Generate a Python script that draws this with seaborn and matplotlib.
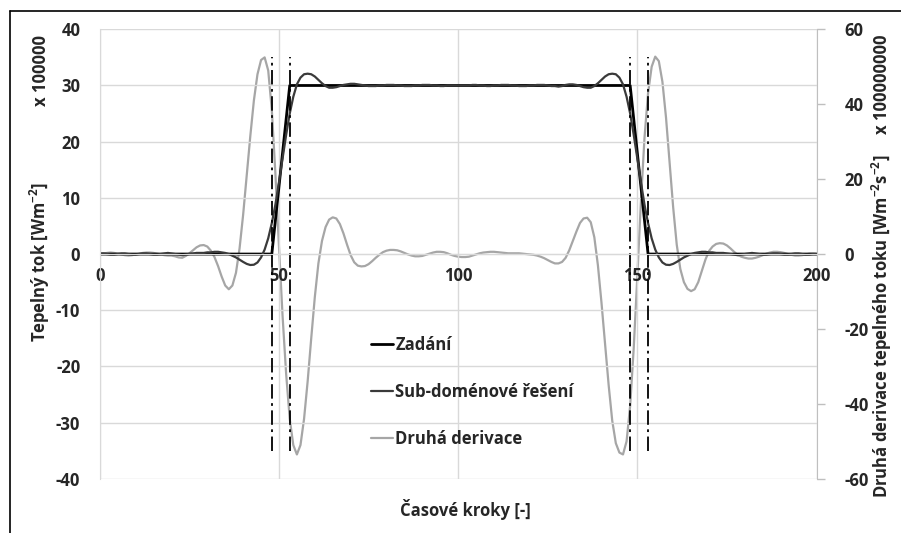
import numpy as np
import matplotlib
matplotlib.use("Agg")
import matplotlib.pyplot as plt
import seaborn as sns
from matplotlib.lines import Line2D

# Časové kroky 0..200
kroky = np.arange(0, 201)

# Zadaný tepelný tok (x 100000 W/m2)
zadani_x = [0, 48, 53, 148, 153, 200]
zadani_y = [0, 0, 30, 30, 0, 0]

# Sub-doménové řešení (x 100000 W/m2), hodnoty pro kroky 0..200
subdomenove = [
    0.1, 0.1, 0.0, -0.1, -0.1, 0.0, 0.1, 0.1, 0.0, -0.1,          # 0
    -0.1, 0.0, 0.1, 0.1, 0.0, -0.1, -0.1, 0.0, 0.1, 0.2,          # 10
    0.1, 0.0, -0.1, -0.2, -0.1, 0.0, 0.1, 0.2, 0.2, 0.2,          # 20
    0.3, 0.3, 0.4, 0.4, 0.3, 0.2, 0.0, -0.3, -0.6, -1.0,          # 30
    -1.4, -1.75, -1.95, -1.9, -1.5, -0.6, 0.8, 2.8, 5.5, 8.8,     # 40
    12.8, 17.0, 21.2, 25.0, 28.0, 30.2, 31.4, 32.0, 32.1, 32.0,   # 50
    31.6, 31.0, 30.4, 29.9, 29.6, 29.6, 29.7, 29.9, 30.1, 30.2,   # 60
    30.3, 30.3, 30.2, 30.1, 30.0, 29.9, 29.9, 29.9, 30.0, 30.0,   # 70
    30.1, 30.1, 30.1, 30.0, 30.0, 29.9, 29.9, 29.9, 30.0, 30.0,   # 80
    30.1, 30.1, 30.1, 30.0, 30.0, 29.9, 29.9, 30.0, 30.0, 30.0,   # 90
    30.0, 30.0, 30.0, 30.0, 30.1, 30.1, 30.0, 30.0, 29.9, 29.9,   # 100
    30.0, 30.0, 30.1, 30.1, 30.1, 30.0, 30.0, 29.9, 29.9, 29.9,   # 110
    30.0, 30.0, 30.1, 30.1, 30.1, 30.0, 29.9, 29.9, 29.8, 29.9,   # 120
    30.1, 30.2, 30.2, 30.1, 29.9, 29.7, 29.6, 29.6, 29.9, 30.4,   # 130
    31.0, 31.6, 32.0, 32.1, 32.0, 31.4, 30.2, 28.0, 25.0, 21.2,   # 140
    17.0, 12.8, 8.8, 5.5, 2.8, 0.8, -0.6, -1.5, -1.9, -1.95,      # 150
    -1.75, -1.4, -1.0, -0.6, -0.3, 0.0, 0.2, 0.3, 0.4, 0.4,       # 160
    0.3, 0.3, 0.2, 0.2, 0.2, 0.1, 0.0, -0.1, -0.2, -0.1,          # 170
    0.0, 0.1, 0.2, 0.1, 0.0, -0.1, -0.1, 0.0, 0.1, 0.1,           # 180
    0.0, -0.1, -0.1, 0.0, 0.1, 0.1, 0.0, -0.1, -0.1, 0.0,         # 190
    0.0,                                                          # 200
]

# Druhá derivace tepelného toku (x 100000000 W/m2/s2), kroky 0..200
druha_derivace = [
    0.0, 0.1, 0.3, 0.4, 0.3, 0.1, -0.1, -0.3, -0.4, -0.3,             # 0
    -0.1, 0.1, 0.3, 0.4, 0.4, 0.3, 0.1, -0.1, -0.3, -0.4,             # 10
    -0.4, -0.6, -0.9, -1.0, -0.5, 0.2, 1.0, 1.8, 2.3, 2.4,            # 20
    2.0, 0.9, -0.8, -3.2, -6.0, -8.4, -9.4, -8.4, -5.0, 1.5,          # 30
    10.5, 21.0, 31.5, 41.0, 48.0, 51.8, 52.5, 49.0, 38.5, 21.5,       # 40
    2.0, -16.5, -32.0, -44.0, -51.0, -53.5, -51.0, -44.0, -34.0, -22.5,  # 50
    -11.5, -2.5, 3.5, 7.2, 9.2, 9.8, 9.5, 8.0, 5.5, 2.5,              # 60
    -0.3, -2.2, -3.1, -3.3, -3.2, -2.7, -1.9, -1.0, -0.2, 0.5,        # 70
    0.9, 1.1, 1.1, 1.0, 0.7, 0.3, -0.1, -0.4, -0.6, -0.6,             # 80
    -0.5, -0.2, 0.1, 0.4, 0.6, 0.6, 0.5, 0.2, -0.2, -0.5,             # 90
    -0.7, -0.8, -0.8, -0.7, -0.4, -0.1, 0.2, 0.4, 0.5, 0.6,           # 100
    0.6, 0.5, 0.4, 0.3, 0.2, 0.2, 0.2, 0.2, 0.1, 0.0,                 # 110
    -0.1, -0.2, -0.4, -0.7, -1.1, -1.6, -2.1, -2.5, -2.5, -2.1,       # 120
    -1.0, 1.0, 3.5, 6.0, 8.3, 9.5, 9.7, 8.5, 4.5, -3.0,               # 130
    -13.0, -24.0, -35.0, -44.5, -50.5, -53.0, -53.5, -50.0, -40.5, -25.0,  # 140
    -6.0, 14.0, 31.0, 43.0, 50.0, 52.7, 51.5, 46.0, 36.5, 24.5,       # 150
    12.5, 2.5, -4.0, -7.5, -9.3, -9.9, -9.4, -7.5, -4.5, -1.5,        # 160
    0.8, 2.0, 2.7, 2.9, 2.8, 2.3, 1.5, 0.6, -0.2, -0.7,               # 170
    -1.0, -1.2, -1.2, -1.0, -0.7, -0.3, 0.1, 0.4, 0.6, 0.6,           # 180
    0.5, 0.3, 0.0, -0.2, -0.4, -0.4, -0.3, -0.1, 0.1, 0.1,            # 190
    0.0,                                                              # 200
]

# Hranice subdomén
hranice = [48, 53, 148, 153]

x_ticks = [0, 50, 100, 150, 200]
y_ticks = list(range(-40, 41, 10))
y2_ticks = list(range(-60, 61, 20))

popisky = ["Zadání", "Sub-doménové řešení", "Druhá derivace"]

sns.set_style("white")
plt.rcParams["font.family"] = ["Open Sans", "DejaVu Sans"]
plt.rcParams["font.weight"] = "bold"
plt.rcParams["mathtext.default"] = "regular"

W, H = 901, 533
fig = plt.figure(figsize=(W / 100, H / 100), dpi=100)
ax = fig.add_axes([99.8 / W, 1 - 478.8 / H, (816.5 - 99.8) / W, (478.8 - 29.3) / H])
ax2 = ax.twinx()

grid_c = "#d9d9d9"
fs = 12

sns.lineplot(x=zadani_x, y=zadani_y, ax=ax, color="black", linewidth=2.0,
             estimator=None, sort=False)
sns.lineplot(x=kroky, y=subdomenove, ax=ax, color="#3a3a3a", linewidth=1.6,
             estimator=None)
sns.lineplot(x=kroky, y=druha_derivace, ax=ax2, color="#a6a6a6", linewidth=1.6,
             estimator=None)

ax.vlines(hranice, -35, 35, colors="black", linewidth=1.3,
          linestyles=(0, (8, 2.5, 1.5, 2.5)))

ax.set_xlim(0, 200)
ax.set_ylim(-40, 40)
ax2.set_ylim(-60, 60)
ax.set_xticks(x_ticks)
ax.set_yticks(y_ticks)
ax2.set_yticks(y2_ticks)
ax.set_xticklabels([str(v) for v in x_ticks])
ax.set_yticklabels([str(v) for v in y_ticks])
ax2.set_yticklabels([str(v) for v in y2_ticks])

ax.grid(True, color=grid_c, linewidth=1.0)
ax.set_axisbelow(True)
ax2.grid(False)

for s in ["top", "right"]:
    ax.spines[s].set_visible(False)
ax.spines["left"].set_color(grid_c)
ax.spines["bottom"].set_position(("data", 0))
ax.spines["bottom"].set_color(grid_c)
for s in ["top", "left", "bottom"]:
    ax2.spines[s].set_visible(False)
ax2.spines["right"].set_color("#bfbfbf")

ax.tick_params(axis="x", length=0, pad=9, labelsize=fs)
ax.tick_params(axis="y", length=0, pad=14, labelsize=fs)
ax2.tick_params(axis="y", length=6, color="#bfbfbf", width=1, pad=14, labelsize=fs)
for lab in ax.get_xticklabels() + ax.get_yticklabels() + ax2.get_yticklabels():
    lab.set_fontweight("bold")

ax.set_xlabel("")
ax.set_ylabel("")
ax2.set_ylabel("")

# Dolní osa nad grafem druhé derivace
ax.set_zorder(ax2.get_zorder() + 1)
ax.patch.set_visible(False)

handles = [ax.lines[0], ax.lines[1], ax2.lines[0]]
fig.legend(handles, popisky, loc="center left",
           bbox_to_anchor=(371 / W, 1 - 392 / H), bbox_transform=fig.transFigure,
           frameon=False, handlelength=1.3, handletextpad=0.15, labelspacing=1.75,
           borderpad=0, borderaxespad=0, prop=dict(weight="bold", size=fs))

fig.text(40 / W, 1 - 262 / H, "Tepelný tok [Wm$^{-2}$]", rotation=90,
         ha="center", va="center", fontsize=fs, fontweight="bold")
fig.text(41 / W, 1 - 70 / H, "x 100000", rotation=90,
         ha="center", va="center", fontsize=fs, fontweight="bold")
fig.text(882 / W, 1 - 326 / H, "Druhá derivace tepelného toku [Wm$^{-2}$s$^{-2}$]",
         rotation=90, ha="center", va="center", fontsize=fs, fontweight="bold")
fig.text(882 / W, 1 - 84 / H, "x 100000000", rotation=90,
         ha="center", va="center", fontsize=fs, fontweight="bold")
fig.text(465 / W, 1 - 510 / H, "Časové kroky [-]",
         ha="center", va="center", fontsize=fs, fontweight="bold")

# Rámeček grafu
fig.add_artist(Line2D([9.5 / W, 9.5 / W], [0, 1 - 10.5 / H],
                      transform=fig.transFigure, color="black", linewidth=1.2))
fig.add_artist(Line2D([9.5 / W, 1], [1 - 10.5 / H, 1 - 10.5 / H],
                      transform=fig.transFigure, color="black", linewidth=1.2))

fig.savefig("out.png", dpi=100)
